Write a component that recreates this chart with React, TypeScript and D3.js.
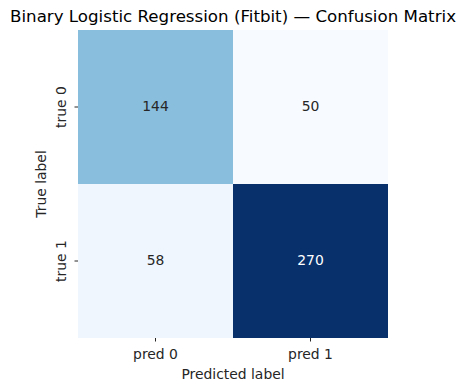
import React, { useRef, useEffect } from 'react';
import * as d3 from 'd3';

const rowLabels = ['true 0', 'true 1'];
const colLabels = ['pred 0', 'pred 1'];
const counts = [
  [144, 50],
  [58, 270],
];
const blues = ['#f7fbff', '#deebf7', '#c6dbef', '#9ecae1', '#6baed6', '#4292c6', '#2171b5', '#08519c', '#08306b'];

export default function App() {
  const ref = useRef<SVGSVGElement>(null);

  useEffect(() => {
    const svg = d3.select(ref.current);
    svg.selectAll('*').remove();
    const width = 466, height = 391;
    const left = 78, right = 388, top = 30, bottom = 338;
    const font = 'DejaVu Sans, sans-serif';
    const fs = 13.9;

    const x = d3.scaleBand().domain(colLabels).range([left, right]);
    const y = d3.scaleBand().domain(rowLabels).range([top, bottom]);

    const flat = counts.flat();
    const lo = d3.min(flat)!, hi = d3.max(flat)!;
    const color = d3.scaleLinear<string>()
      .domain(blues.map((_, i) => lo + (hi - lo) * i / (blues.length - 1)))
      .range(blues)
      .interpolate(d3.interpolateRgb);

    const cells = counts.flatMap((row, i) => row.map((v, j) => ({ r: rowLabels[i], c: colLabels[j], v })));

    svg.append('rect').attr('width', width).attr('height', height).attr('fill', '#fff');

    svg.selectAll('.cell')
      .data(cells)
      .join('rect')
      .attr('class', 'cell')
      .attr('x', d => x(d.c)!)
      .attr('y', d => y(d.r)!)
      .attr('width', x.bandwidth())
      .attr('height', y.bandwidth())
      .attr('fill', d => color(d.v));

    svg.selectAll('.annot')
      .data(cells)
      .join('text')
      .attr('class', 'annot')
      .attr('x', d => x(d.c)! + x.bandwidth() / 2)
      .attr('y', d => y(d.r)! + y.bandwidth() / 2)
      .attr('dy', '0.3em')
      .attr('text-anchor', 'middle')
      .attr('font-family', font)
      .attr('font-size', fs)
      .attr('fill', d => (d.v - lo) / (hi - lo) > 0.6 ? '#fff' : '#262626')
      .text(d => d.v);

    const xAxis = svg.append('g')
      .attr('transform', `translate(0,${bottom})`)
      .call(d3.axisBottom(x).tickSize(3.5).tickPadding(4));
    xAxis.select('.domain').remove();
    xAxis.selectAll('text').attr('font-family', font).attr('font-size', fs).attr('fill', '#262626')
      .attr('y', 21).attr('dy', 0);
    xAxis.selectAll('line').attr('stroke', '#262626');

    const yAxis = svg.append('g')
      .attr('transform', `translate(${left},0)`)
      .call(d3.axisLeft(y).tickSize(3.5).tickPadding(4));
    yAxis.select('.domain').remove();
    yAxis.selectAll('line').attr('stroke', '#262626');
    yAxis.selectAll('text')
      .attr('font-family', font).attr('font-size', fs).attr('fill', '#262626')
      .attr('text-anchor', 'middle')
      .attr('x', 0).attr('dy', 0)
      .attr('transform', 'translate(-12,0) rotate(-90)');

    svg.append('text')
      .attr('x', (left + right) / 2).attr('y', 379)
      .attr('text-anchor', 'middle')
      .attr('font-family', font).attr('font-size', fs).attr('fill', '#262626')
      .text('Predicted label');

    svg.append('text')
      .attr('transform', `translate(46,${(top + bottom) / 2}) rotate(-90)`)
      .attr('text-anchor', 'middle')
      .attr('font-family', font).attr('font-size', fs).attr('fill', '#262626')
      .text('True label');

    svg.append('text')
      .attr('x', (left + right) / 2).attr('y', 22)
      .attr('text-anchor', 'middle')
      .attr('font-family', font).attr('font-size', 16.67).attr('fill', '#000')
      .text('Binary Logistic Regression (Fitbit) — Confusion Matrix');
  }, []);

  return <svg ref={ref} width={466} height={391} style={{ position: 'absolute', left: 0, top: 0 }} role="img" aria-label="Confusion matrix"></svg>;
}
